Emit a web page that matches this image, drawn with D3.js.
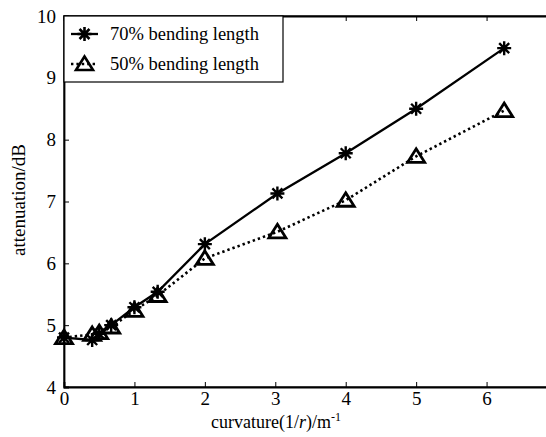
<!DOCTYPE html>
<html>
<head>
<meta charset="utf-8">
<script src="https://cdn.jsdelivr.net/npm/d3@7"></script>
<style>
body { margin: 0; background: #fff; }
svg, svg text { font-family: "Liberation Serif", "Times New Roman", serif; }
</style>
</head>
<body>
<div id="chart"></div>
<script>
// curvature values (1/r, m^-1)
var curvature = [0, 0.4, 0.5, 0.67, 1, 1.33, 2, 3.03, 4, 5, 6.25];
// attenuation, dB
var att70 = [4.8, 4.76, 4.86, 5.0, 5.29, 5.54, 6.31, 7.13, 7.78, 8.5, 9.48];
var att50 = [4.8, 4.85, 4.88, 4.97, 5.24, 5.48, 6.08, 6.51, 7.02, 7.73, 8.47];
var xTicks = [0, 1, 2, 3, 4, 5, 6];
var yTicks = [4, 5, 6, 7, 8, 9, 10];
var seriesNames = ["70% bending length", "50% bending length"];

var width = 546, height = 437;
var margin = {left: 64, top: 16},
plotW = 493,  // x domain 0..7, right side runs off the picture
plotH = 371;

var svg = d3.select("#chart").append("svg")
.attr("width", width)
.attr("height", height);

var x = d3.scaleLinear().domain([0, 7]).range([margin.left, margin.left + plotW]);
var y = d3.scaleLinear().domain([4, 10]).range([margin.top + plotH, margin.top]);

// frame
svg.append("rect")
.attr("x", x(0)).attr("y", y(10))
.attr("width", plotW).attr("height", plotH)
.attr("fill", "none").attr("stroke", "#000").attr("stroke-width", 1.2);

// axes with inward ticks
var bottom = svg.append("g").attr("transform", "translate(0," + y(4) + ")")
.call(d3.axisBottom(x).tickValues(xTicks).tickSize(-5).tickPadding(8).tickFormat(d3.format("d")));
var left = svg.append("g").attr("transform", "translate(" + x(0) + ",0)")
.call(d3.axisLeft(y).tickValues(yTicks).tickSize(-5).tickPadding(8).tickFormat(d3.format("d")));
svg.append("g").attr("transform", "translate(0," + y(10) + ")")
.call(d3.axisTop(x).tickValues(xTicks.slice(1)).tickSize(-5).tickFormat(""));
svg.append("g").attr("transform", "translate(" + x(7) + ",0)")
.call(d3.axisRight(y).tickValues(yTicks.slice(1, -1)).tickSize(-5).tickFormat(""));

svg.selectAll("g").attr("font-family", null);
svg.selectAll(".domain").attr("stroke-width", 1.8);
svg.selectAll(".tick line").attr("stroke-width", 1);
svg.selectAll(".tick text")
.style("font-size", "19px").style("font-family", "'Liberation Serif', serif")
.attr("fill", "#000");
bottom.selectAll(".tick text").attr("dy", "0.55em");
left.selectAll(".tick text").attr("dy", "0.32em");

// lines
var line = d3.line().x(function(d, i) { return x(curvature[i]); }).y(function(d) { return y(d); });

svg.append("path").datum(att50)
.attr("d", line)
.attr("fill", "none").attr("stroke", "#000")
.attr("stroke-width", 2.6).attr("stroke-dasharray", "2.4,3");

svg.append("path").datum(att70)
.attr("d", line)
.attr("fill", "none").attr("stroke", "#000").attr("stroke-width", 2.3);

// markers
var star = "M-7,0L7,0M0,-7L0,7M-5,-5L5,5M-5,5L5,-5";
var tri = "M0,-7.5L8.5,6L-8.5,6Z";

svg.selectAll(".m50").data(att50).enter().append("path")
.attr("class", "m50")
.attr("transform", function(d, i) { return "translate(" + x(curvature[i]) + "," + y(d) + ")"; })
.attr("d", tri)
.attr("fill", "none").attr("stroke", "#000").attr("stroke-width", 2.8);

svg.selectAll(".m70").data(att70).enter().append("path")
.attr("class", "m70")
.attr("transform", function(d, i) { return "translate(" + x(curvature[i]) + "," + y(d) + ")"; })
.attr("d", star)
.attr("fill", "none").attr("stroke", "#000").attr("stroke-width", 2.4);

// legend
var lg = svg.append("g");
lg.append("rect")
.attr("x", x(0)).attr("y", y(10))
.attr("width", 219).attr("height", 66)
.attr("fill", "#fff").attr("stroke", "#000").attr("stroke-width", 1.2);

var rows = [{name: seriesNames[0], mark: star, dash: null, w: 2.3, yy: 34},
	{name: seriesNames[1], mark: tri, dash: "2.4,3", w: 2.6, yy: 64}];
rows.forEach(function(r) {
	lg.append("line")
	.attr("x1", 71).attr("x2", 98).attr("y1", r.yy).attr("y2", r.yy)
	.attr("stroke", "#000").attr("stroke-width", r.w)
	.attr("stroke-dasharray", r.dash);
	lg.append("path")
	.attr("transform", "translate(84.5," + r.yy + ")")
	.attr("d", r.mark)
	.attr("fill", "none").attr("stroke", "#000").attr("stroke-width", 2.6);
	lg.append("text")
	.attr("x", 110).attr("y", r.yy).attr("dy", "0.35em")
	.style("font-size", "18.5px").text(r.name);
});

// axis titles
var xl = svg.append("text")
.attr("x", 276).attr("y", 428)
.attr("text-anchor", "middle").style("font-size", "18px");
xl.append("tspan").text("curvature(1/");
xl.append("tspan").attr("font-style", "italic").text("r");
xl.append("tspan").text(")/m");
xl.append("tspan").style("font-size", "12px").attr("dy", -7).text("-1");

svg.append("text")
.attr("transform", "translate(25,200) rotate(-90)")
.attr("text-anchor", "middle").style("font-size", "19px")
.text("attenuation/dB");
</script>
</body>
</html>
